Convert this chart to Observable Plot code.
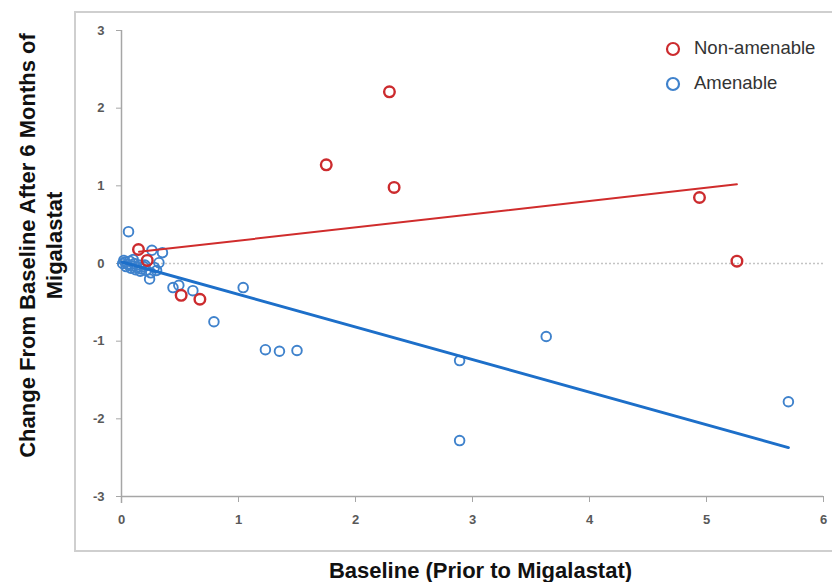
<!DOCTYPE html>
<html>
<head>
<meta charset="utf-8">
<script src="https://cdn.jsdelivr.net/npm/d3@7"></script>
<script src="https://cdn.jsdelivr.net/npm/@observablehq/plot@0.6"></script>
<style>
  html, body { margin: 0; padding: 0; background: #fff; }
  #wrap { position: relative; width: 832px; height: 582px; overflow: hidden; font-family: "Liberation Sans", Arial, sans-serif; }
  #frame { position: absolute; left: 74px; top: 11px; width: 800px; height: 537px; border: 2px solid #cfcfcf; box-sizing: content-box; pointer-events: none; }
  #chart { position: absolute; left: 0; top: 0; }
  #legend { position: absolute; left: 665px; top: 31px; font-size: 18.5px; color: #333; line-height: 1; }
  #legend .item { display: flex; align-items: center; height: 35px; }
  #legend svg { margin-right: 13px; }
</style>
</head>
<body>
<div id="wrap">
  <div id="frame"></div>
  <div id="chart"></div>
  <div id="legend"></div>
</div>
<script>
// ---- data ----
const seriesNames = ["Non-amenable", "Amenable"];
const seriesColors = ["#cc2b2e", "#3f82cc"];

const nonAmenableX = [0.145, 0.22, 0.51, 0.67, 1.75, 2.29, 2.33, 4.94, 5.26];
const nonAmenableY = [0.18, 0.04, -0.41, -0.46, 1.27, 2.21, 0.98, 0.85, 0.03];

const amenableX = [0.06, 0.26, 0.35, 0.32, 0.30, 0.24, 0.44, 0.49, 0.61, 1.04, 0.79, 1.23, 1.35, 1.50, 2.89, 3.63, 2.89, 5.70,
  0.01, 0.03, 0.05, 0.07, 0.09, 0.11, 0.13, 0.15, 0.17, 0.19, 0.21, 0.04, 0.08, 0.12, 0.16, 0.02, 0.10, 0.20, 0.25, 0.28];
const amenableY = [0.41, 0.17, 0.14, 0.01, -0.09, -0.20, -0.31, -0.28, -0.35, -0.31, -0.75, -1.11, -1.13, -1.12, -1.25, -0.94, -2.28, -1.78,
  0.00, 0.02, -0.01, 0.03, -0.03, 0.00, -0.05, -0.02, -0.07, -0.04, -0.09, -0.04, -0.06, -0.08, -0.10, 0.04, 0.05, -0.02, -0.12, -0.05];

// linear trendlines (endpoints)
const trendNonAmenableX = [0.15, 5.26];
const trendNonAmenableY = [0.15, 1.02];
const trendAmenableX = [0.005, 5.70];
const trendAmenableY = [0.02, -2.37];

const xTicks = [0, 1, 2, 3, 4, 5, 6];
const yTicks = [-3, -2, -1, 0, 1, 2, 3];
const xTitle = "Baseline (Prior to Migalastat)";
const yTitle = "Change From Baseline After 6 Months of\nMigalastat";

// ---- tables ----
const nonPts = nonAmenableX.map((x, i) => ({x, y: nonAmenableY[i]}));
const amPts = amenableX.map((x, i) => ({x, y: amenableY[i]}));
const nonTrend = trendNonAmenableX.map((x, i) => ({x, y: trendNonAmenableY[i]}));
const amTrend = trendAmenableX.map((x, i) => ({x, y: trendAmenableY[i]}));

const chart = Plot.plot({
  width: 832,
  height: 582,
  marginLeft: 121,
  marginRight: 9,
  marginTop: 30,
  marginBottom: 86,
  style: {fontFamily: "'Liberation Sans', Arial, sans-serif", background: "transparent", overflow: "visible"},
  x: {domain: [0, 6]},
  y: {domain: [-3, 3]},
  marks: [
    Plot.ruleY([0], {stroke: "#c4c4c4", strokeWidth: 1.5, strokeDasharray: "2,2"}),
    Plot.ruleX([0], {stroke: "#a6a6a6", strokeWidth: 1.5, insetBottom: -7}),
    Plot.ruleY([-3], {stroke: "#a6a6a6", strokeWidth: 1.5}),
    Plot.axisY({ticks: yTicks, tickSize: 5, tickPadding: 12, stroke: "#a6a6a6", fill: "#595959", fontWeight: "bold", fontSize: 13, label: null, tickFormat: d => String(d)}),
    Plot.axisX({ticks: xTicks, tickSize: 6, tickPadding: 12, stroke: "#a6a6a6", fill: "#595959", fontWeight: "bold", fontSize: 13, label: null, tickFormat: d => String(d)}),
    Plot.dot(amPts, {x: "x", y: "y", r: 4.8, stroke: seriesColors[1], strokeWidth: 1.9, fill: "none"}),
    Plot.dot(nonPts, {x: "x", y: "y", r: 5.3, stroke: seriesColors[0], strokeWidth: 2.4, fill: "none"}),
    Plot.line(amTrend, {x: "x", y: "y", stroke: "#1d6fc9", strokeWidth: 3}),
    Plot.line(nonTrend, {x: "x", y: "y", stroke: "#d02c2c", strokeWidth: 2}),
    Plot.text([xTitle], {frameAnchor: "bottom", dx: 8, dy: 74, fontSize: 22, fontWeight: "bold", fill: "#111", textAnchor: "middle", lineAnchor: "middle"}),
    Plot.text([yTitle], {frameAnchor: "left", dx: -82, dy: -18, rotate: -90, fontSize: 22, fontWeight: "bold", fill: "#111", textAnchor: "middle", lineAnchor: "middle", lineHeight: 1.25})
  ]
});
document.getElementById("chart").appendChild(chart);

// legend
const legend = document.getElementById("legend");
seriesNames.forEach((name, i) => {
  const item = document.createElement("div");
  item.className = "item";
  item.innerHTML = `<svg width="16" height="16"><circle cx="8" cy="8" r="6" fill="none" stroke="${seriesColors[i]}" stroke-width="2.2"/></svg><span>${name}</span>`;
  legend.appendChild(item);
});
</script>
</body>
</html>
